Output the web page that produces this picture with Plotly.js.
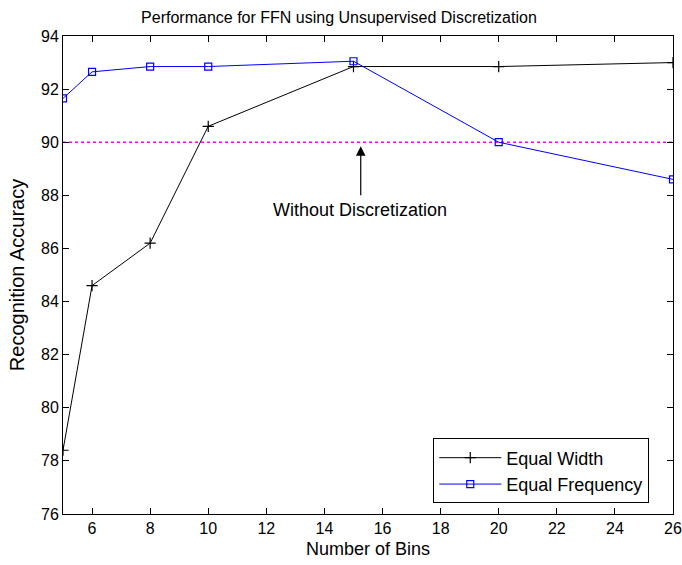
<!DOCTYPE html>
<html>
<head>
<meta charset="utf-8">
<script src="https://cdn.plot.ly/plotly-3.0.1.min.js"></script>
<style>html,body{margin:0;padding:0;background:#fff;}#chart{width:682px;height:565px;}</style>
</head>
<body>
<div id="chart"></div>
<script>
const bins = [5, 6, 8, 10, 15, 20, 26];
const equalWidth = [78.4, 84.6, 86.2, 90.6, 92.85, 92.85, 93.0];
const equalFrequency = [91.65, 92.65, 92.85, 92.85, 93.05, 90.0, 88.6];
const baselineAccuracy = 90;
const xTicks = [6, 8, 10, 12, 14, 16, 18, 20, 22, 24, 26];
const yTicks = [76, 78, 80, 82, 84, 86, 88, 90, 92, 94];

const FONT = '"Liberation Sans", Arial, sans-serif';

const traces = [
  {
    x: bins, y: equalWidth, name: 'Equal Width', type: 'scatter', mode: 'lines+markers',
    line: {color: '#000000', width: 1},
    marker: {symbol: 'cross-thin', size: 8, line: {color: '#000000', width: 1.2}, color: '#000000'}
  },
  {
    x: bins, y: equalFrequency, name: 'Equal Frequency', type: 'scatter', mode: 'lines+markers',
    line: {color: '#0000ff', width: 1},
    marker: {symbol: 'square-open', size: 7, line: {color: '#0000ff', width: 1.2}, color: '#0000ff'}
  }
];

const axisCommon = {
  showline: true, linecolor: '#000', linewidth: 1, mirror: 'ticks',
  ticks: 'inside', ticklen: 6, tickcolor: '#000', tickwidth: 1,
  showgrid: false, zeroline: false,
  tickfont: {family: FONT, size: 16, color: '#000'}
};

const layout = {
  width: 682, height: 565,
  paper_bgcolor: '#fff', plot_bgcolor: '#fff',
  margin: {l: 63, r: 9, t: 36, b: 51},
  title: {text: 'Performance for FFN using Unsupervised Discretization', x: 0.497, xanchor: 'center', y: 0.97, yanchor: 'middle',
          font: {family: FONT, size: 16, color: '#000'}},
  xaxis: Object.assign({}, axisCommon, {
    range: [5, 26], tickvals: xTicks, ticktext: xTicks.map(String),
    title: {text: 'Number of Bins', font: {family: FONT, size: 18, color: '#000'}, standoff: 6}
  }),
  yaxis: Object.assign({}, axisCommon, {
    range: [76, 94], tickvals: yTicks, ticktext: yTicks.map(String),
    title: {text: 'Recognition Accuracy', font: {family: FONT, size: 20, color: '#000'}, standoff: 11}
  }),
  showlegend: true,
  legend: {
    x: 0.607, y: 0.158, xanchor: 'left', yanchor: 'top',
    bgcolor: '#fff', bordercolor: '#000', borderwidth: 1,
    font: {family: FONT, size: 18, color: '#000'},
    itemwidth: 62, tracegroupgap: 0
  },
  shapes: [
    {type: 'line', xref: 'x', yref: 'y', x0: bins[0], x1: bins[bins.length - 1], y0: baselineAccuracy, y1: baselineAccuracy,
     line: {color: '#ff00ff', width: 1.5, dash: 'dot'}, layer: 'below'}
  ],
  annotations: [
    {x: 15.25, y: 89.85, ax: 15.25, ay: 87.95, xref: 'x', yref: 'y', axref: 'x', ayref: 'y',
     text: '', showarrow: true, arrowhead: 2, arrowsize: 1.6, arrowwidth: 1.2, arrowcolor: '#000'},
    {x: 15.22, y: 87.45, xref: 'x', yref: 'y', text: 'Without Discretization', showarrow: false,
     font: {family: FONT, size: 18, color: '#000'}, xanchor: 'center', yanchor: 'middle'}
  ]
};

Plotly.newPlot('chart', traces, layout, {displayModeBar: false, staticPlot: true});
</script>
</body>
</html>
